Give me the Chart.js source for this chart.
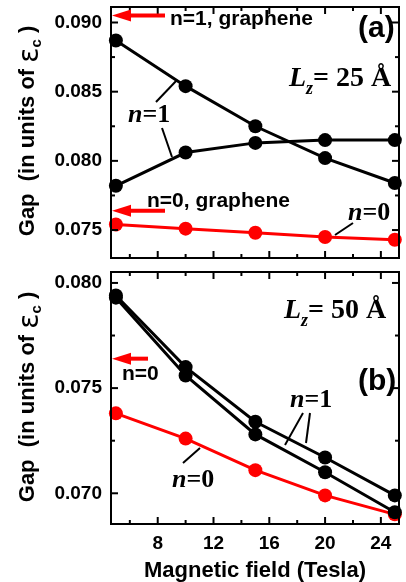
<!DOCTYPE html>
<html>
<head>
<meta charset="utf-8">
<script src="https://cdn.jsdelivr.net/npm/chart.js@4.4.0/dist/chart.umd.min.js"></script>
<style>
  body { margin: 0; background: #fff; }
  #wrap { position: relative; width: 406px; height: 582px; }
  #wrap canvas { position: absolute; left: 0; top: 0; }
</style>
</head>
<body>
<div id="wrap">
  <canvas id="panelA" width="406" height="582"></canvas>
  <canvas id="panelB" width="406" height="582"></canvas>
</div>
<script>
// magnetic field values (Tesla)
var fieldTesla = [5, 10, 15, 20, 25];

// (a) Lz = 25 A
var gapA_n1_upper = [0.0887, 0.0854, 0.0825, 0.0802, 0.0784];
var gapA_n1_lower = [0.0782, 0.0806, 0.0813, 0.0815, 0.0815];
var gapA_n0 = [0.0754, 0.0751, 0.0748, 0.0745, 0.0743];

// (b) Lz = 50 A
var gapB_n1_upper = [0.0794, 0.0760, 0.0734, 0.0717, 0.0699];
var gapB_n1_lower = [0.0793, 0.0756, 0.0728, 0.0710, 0.0691];
var gapB_n0 = [0.0738, 0.0726, 0.0711, 0.0699, 0.0690];

// graphene levels (red arrows)
var graphene_n1 = 0.0905;
var graphene_n0 = 0.0764;

// ticks
var xMajorTicks = [8, 12, 16, 20, 24];
var xMinorTicks = [6, 10, 14, 18, 22];
var yMajorTicksA = [0.075, 0.080, 0.085, 0.090];
var yMinorTicksA = [0.0775, 0.0825, 0.0875];
var yMajorTicksB = [0.070, 0.075, 0.080];
var yMinorTicksB = [0.0725, 0.0775];

var SANS = '"Liberation Sans", Arial, sans-serif';
var SERIF = '"Liberation Serif", "Times New Roman", serif';
var RED = '#ff0000';

function pts(values) {
  return fieldTesla.map(function(x, i) { return { x: x, y: values[i] }; });
}

function series(values, color) {
  return {
    data: pts(values),
    borderColor: color,
    backgroundColor: color,
    pointBackgroundColor: color,
    borderWidth: 3,
    pointRadius: 7,
    pointHoverRadius: 7,
    pointBorderWidth: 0,
    tension: 0,
    clip: false
  };
}

function line(ctx, x1, y1, x2, y2) {
  ctx.beginPath();
  ctx.moveTo(x1, y1);
  ctx.lineTo(x2, y2);
  ctx.stroke();
}

function runs(ctx, x, y, parts) {
  parts.forEach(function(p) {
    ctx.font = p.font;
    ctx.fillText(p.t, x, y + (p.dy || 0));
    x += ctx.measureText(p.t).width;
  });
  return x;
}

function runsWidth(ctx, parts) {
  var w = 0;
  parts.forEach(function(p) { ctx.font = p.font; w += ctx.measureText(p.t).width; });
  return w;
}

function arrow(ctx, yScale, area, value, tail) {
  var y = yScale.getPixelForValue(value);
  var tip = area.left + 1;
  ctx.save();
  ctx.strokeStyle = RED;
  ctx.fillStyle = RED;
  ctx.lineWidth = 4;
  line(ctx, tip + 16, y, tail, y);
  ctx.beginPath();
  ctx.moveTo(tip, y);
  ctx.lineTo(tip + 19, y - 6);
  ctx.lineTo(tip + 19, y + 6);
  ctx.closePath();
  ctx.fill();
  ctx.restore();
}

function drawFrame(chart, yMajor, yMinor) {
  var ctx = chart.ctx, a = chart.chartArea;
  var xs = chart.scales.x, ys = chart.scales.y;
  ctx.save();
  ctx.strokeStyle = '#000';
  ctx.lineWidth = 2;
  ctx.strokeRect(a.left, a.top, a.right - a.left, a.bottom - a.top);
  function xt(v, len) {
    var p = xs.getPixelForValue(v);
    line(ctx, p, a.bottom, p, a.bottom - len);
    line(ctx, p, a.top, p, a.top + len);
  }
  function yt(v, len) {
    var p = ys.getPixelForValue(v);
    line(ctx, a.left, p, a.left + len, p);
    line(ctx, a.right, p, a.right - len, p);
  }
  xMajorTicks.forEach(function(v) { xt(v, 7); });
  xMinorTicks.forEach(function(v) { xt(v, 4); });
  yMajor.forEach(function(v) { yt(v, 7); });
  yMinor.forEach(function(v) { yt(v, 4); });
  ctx.restore();
}

function drawYTitle(ctx, x, cy) {
  var parts = [
    { t: 'Gap  (in units of ', font: 'bold 22px ' + SANS },
    { t: 'ε', font: '28px "DejaVu Sans", sans-serif', dy: 4 },
    { t: 'c', font: 'bold 15px ' + SANS, dy: 7 },
    { t: ' )', font: 'bold 22px ' + SANS }
  ];
  ctx.save();
  ctx.fillStyle = '#000';
  ctx.textBaseline = 'alphabetic';
  ctx.translate(x, cy);
  ctx.rotate(-Math.PI / 2);
  runs(ctx, -runsWidth(ctx, parts) / 2, 0, parts);
  ctx.restore();
}

function nLabel(ctx, x, y, num) {
  runs(ctx, x, y, [
    { t: 'n', font: 'bold italic 26px ' + SERIF },
    { t: '=' + num, font: 'bold 26px ' + SERIF }
  ]);
}

function lzLabel(ctx, x, y, len) {
  runs(ctx, x, y, [
    { t: 'L', font: 'bold italic 28px ' + SERIF },
    { t: 'z', font: 'bold italic 18px ' + SERIF, dy: 8 },
    { t: '= ' + len + ' Å', font: 'bold 28px ' + SERIF }
  ]);
}

function axisOptions(cfg) {
  return {
    responsive: false,
    animation: false,
    events: [],
    layout: { padding: cfg.padding },
    plugins: { legend: { display: false }, tooltip: { enabled: false } },
    scales: {
      x: {
        type: 'linear',
        min: 4.65,
        max: 25.3,
        grid: { display: false, drawTicks: false },
        border: { display: false },
        afterBuildTicks: function(s) {
          s.ticks = xMajorTicks.map(function(v) { return { value: v }; });
        },
        afterFit: function(s) {
          s.height = cfg.xHeight;
          s.paddingLeft = 0; s.paddingRight = 0; s.paddingTop = 0; s.paddingBottom = 0;
        },
        ticks: {
          display: cfg.xLabels,
          color: '#000',
          padding: 8,
          maxRotation: 0,
          autoSkip: false,
          font: { family: SANS, weight: 'bold', size: 19 }
        },
        title: {
          display: cfg.xLabels,
          text: 'Magnetic field (Tesla)',
          color: '#000',
          padding: 0,
          font: { family: SANS, weight: 'bold', size: 22, lineHeight: 1 }
        }
      },
      y: {
        type: 'linear',
        min: cfg.yMin,
        max: cfg.yMax,
        grid: { display: false, drawTicks: false },
        border: { display: false },
        afterBuildTicks: function(s) {
          s.ticks = cfg.yTicks.map(function(v) { return { value: v }; });
        },
        afterFit: function(s) {
          s.width = 111;
          s.paddingLeft = 0; s.paddingRight = 0; s.paddingTop = 0; s.paddingBottom = 0;
        },
        ticks: {
          color: '#000',
          padding: 9,
          font: { family: SANS, weight: 'bold', size: 19 },
          callback: function(v) { return v.toFixed(3); }
        }
      }
    }
  };
}

// panel (a)
new Chart(document.getElementById('panelA'), {
  type: 'line',
  data: {
    datasets: [
      series(gapA_n1_upper, '#000'),
      series(gapA_n1_lower, '#000'),
      series(gapA_n0, RED)
    ]
  },
  options: axisOptions({
    padding: { top: 5, right: 2, bottom: 316, left: 0 },
    xHeight: 8, xLabels: false,
    yMin: 0.07298, yMax: 0.09112, yTicks: yMajorTicksA
  }),
  plugins: [{
    id: 'decorA',
    afterDraw: function(chart) {
      var ctx = chart.ctx, a = chart.chartArea, ys = chart.scales.y;
      drawFrame(chart, yMajorTicksA, yMinorTicksA);
      arrow(ctx, ys, a, graphene_n1, 165);
      arrow(ctx, ys, a, graphene_n0, 165);
      ctx.save();
      ctx.fillStyle = '#000';
      ctx.strokeStyle = '#000';
      ctx.textBaseline = 'alphabetic';
      ctx.font = 'bold 21px ' + SANS;
      ctx.fillText('n=1, graphene', 170, 25);
      ctx.fillText('n=0, graphene', 147, 207);
      ctx.font = 'bold 30px ' + SANS;
      ctx.fillText('(a)', 358, 37);
      lzLabel(ctx, 289, 86, 25);
      nLabel(ctx, 128, 122, 1);
      nLabel(ctx, 348, 220, 0);
      ctx.lineWidth = 2;
      line(ctx, 156, 102, 177, 80);
      line(ctx, 162, 128, 172, 157);
      line(ctx, 335, 235, 353, 223);
      drawYTitle(ctx, 34, 131);
      ctx.restore();
    }
  }]
});

// panel (b)
new Chart(document.getElementById('panelB'), {
  type: 'line',
  data: {
    datasets: [
      series(gapB_n1_upper, '#000'),
      series(gapB_n1_lower, '#000'),
      series(gapB_n0, RED)
    ]
  },
  options: axisOptions({
    padding: { top: 272, right: 2, bottom: 0, left: 0 },
    xHeight: 58, xLabels: true,
    yMin: 0.06854, yMax: 0.08052, yTicks: yMajorTicksB
  }),
  plugins: [{
    id: 'decorB',
    afterDraw: function(chart) {
      var ctx = chart.ctx, a = chart.chartArea, ys = chart.scales.y;
      drawFrame(chart, yMajorTicksB, yMinorTicksB);
      arrow(ctx, ys, a, graphene_n0, 148);
      ctx.save();
      ctx.fillStyle = '#000';
      ctx.strokeStyle = '#000';
      ctx.textBaseline = 'alphabetic';
      ctx.font = 'bold 21px ' + SANS;
      ctx.fillText('n=0', 122, 380);
      ctx.font = 'bold 30px ' + SANS;
      ctx.fillText('(b)', 358, 390);
      lzLabel(ctx, 284, 318, 50);
      nLabel(ctx, 290, 407, 1);
      nLabel(ctx, 172, 487, 0);
      ctx.lineWidth = 2;
      line(ctx, 303, 413, 285, 445);
      line(ctx, 310, 413, 306, 443);
      line(ctx, 183, 463, 200, 448);
      drawYTitle(ctx, 34, 397);
      ctx.restore();
    }
  }]
});
</script>
</body>
</html>
